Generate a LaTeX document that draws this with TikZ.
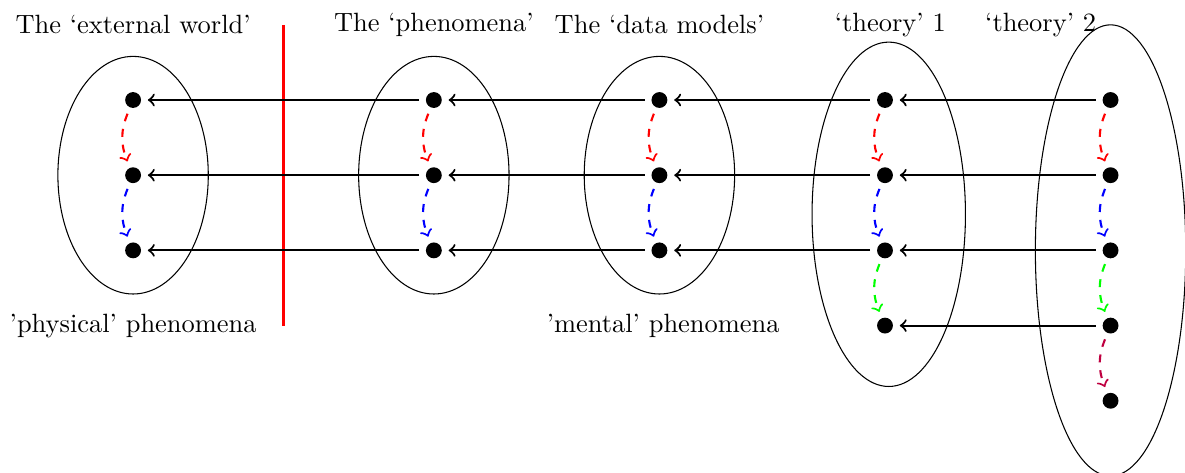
\documentclass[tikz,border=0pt]{standalone}
\begin{document}
\begin{tikzpicture}[x=1cm,y=1cm,
  dot/.style={circle,fill=black,inner sep=0pt,minimum size=6pt,outer sep=2.6pt},
  lbl/.style={inner sep=0pt,font=\normalsize},
  link/.style={thick,->},
  flow/.style={thick,dashed,->,bend right=22},
  region/.style={thin}
]
\useasboundingbox (-1.77,1.33) rectangle (13.99,-4.96);
% dots
\foreach \c/\x/\n in {A/0/3,B/4/3,C/7/3,D/10/4,E/13/5}{
  \foreach \r in {1,...,\n}{
    \node[dot] (\c\r) at (\x,{1-\r}) {};
  }
}
% ellipses
\draw[region] (0,-1) ellipse (1cm and 1.58cm);
\draw[region] (4,-1) ellipse (1cm and 1.58cm);
\draw[region] (7,-1) ellipse (1cm and 1.58cm);
\draw[region] (10.05,-1.52) ellipse (1.02cm and 2.29cm);
\draw[region] (13,-2) ellipse (1cm and 3cm);
% red divider
\coordinate (divtop) at (2,1);
\coordinate (divbot) at (2,-3);
\draw[red,very thick] (divtop) -- (divbot);
% horizontal arrows
\foreach \r in {1,2,3}{
  \draw[link] (E\r) -- (D\r);
  \draw[link] (D\r) -- (C\r);
  \draw[link] (C\r) -- (B\r);
  \draw[link] (B\r) -- (A\r);
}
\draw[link] (E4) -- (D4);
% dashed curved arrows
\foreach \c in {A,B,C,D,E}{
  \draw[flow,red] (\c1) to (\c2);
  \draw[flow,blue] (\c2) to (\c3);
}
\draw[flow,green] (D3) to (D4);
\draw[flow,green] (E3) to (E4);
\draw[flow,purple] (E4) to (E5);
% labels
\node[lbl] (t1) at (0,1) {The ‘external world’};
\node[lbl] (t2) at (4,1) {The ‘phenomena’};
\node[lbl] (t3) at (7,1) {The ‘data models’};
\node[lbl] (t4) at (10.07,1) {‘theory’ 1};
\node[lbl] (t5) at (12.07,1) {‘theory’ 2};
\node[lbl] (b1) at (0,-3) {’physical’ phenomena};
\node[lbl] (b2) at (7.05,-3) {’mental’ phenomena};
\end{tikzpicture}
\end{document}
